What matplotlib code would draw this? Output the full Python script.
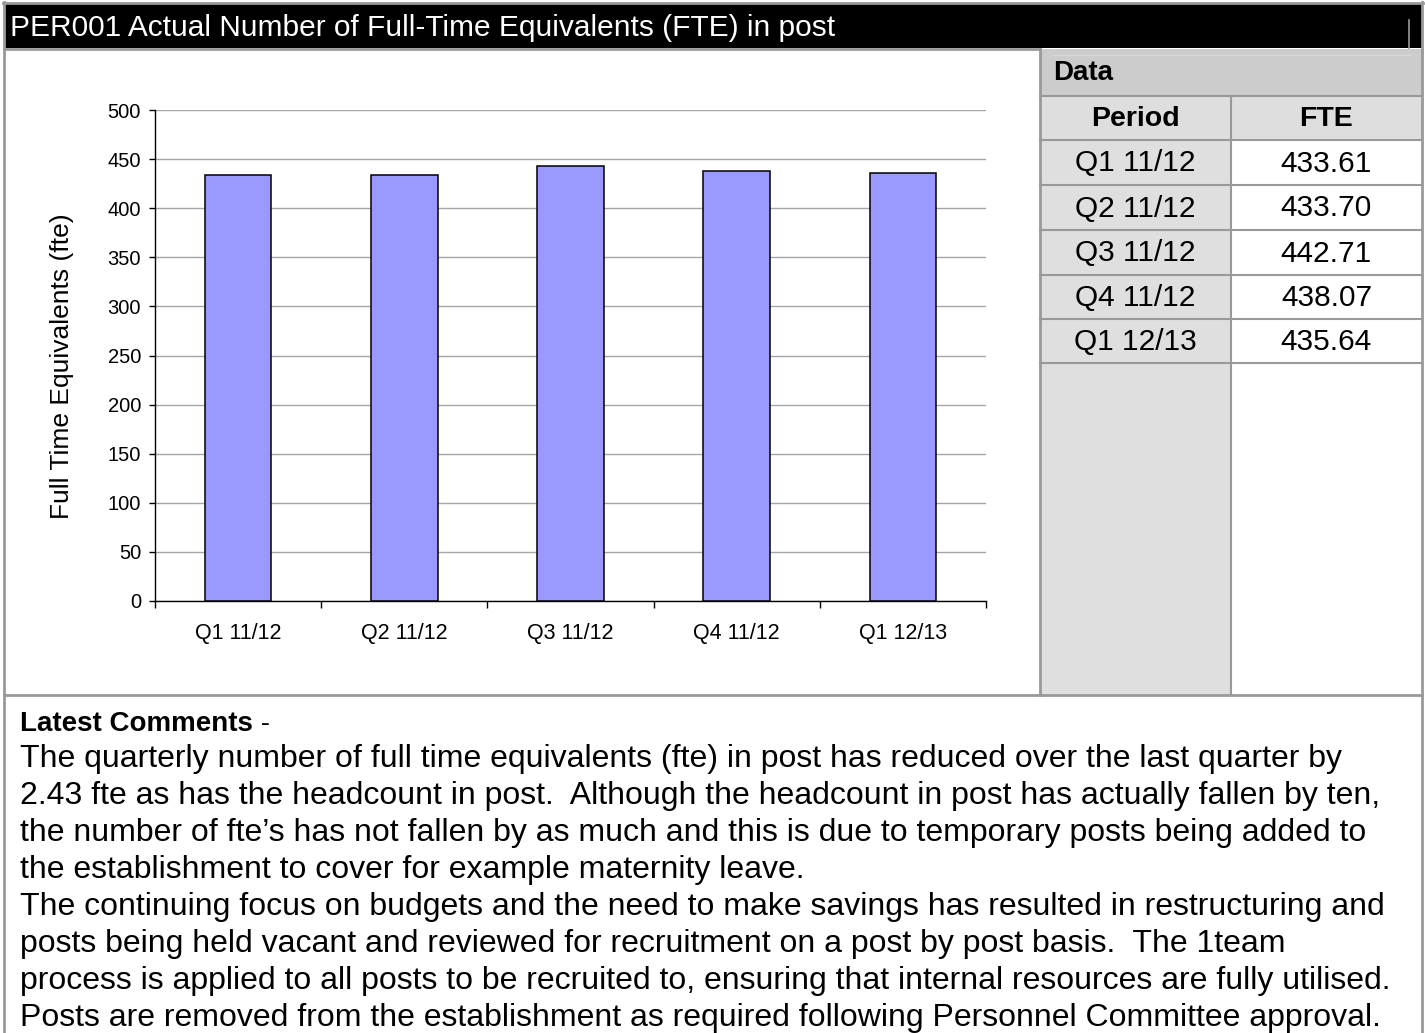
import matplotlib
matplotlib.use('Agg')
import matplotlib.pyplot as plt
from matplotlib.patches import Rectangle
import numpy as np

# ---------------- data ----------------
periods = ['Q1 11/12', 'Q2 11/12', 'Q3 11/12', 'Q4 11/12', 'Q1 12/13']
fte = [433.61, 433.70, 442.71, 438.07, 435.64]
fte_labels = ['433.61', '433.70', '442.71', '438.07', '435.64']
yticks = [0, 50, 100, 150, 200, 250, 300, 350, 400, 450, 500]

title = 'PER001 Actual Number of Full-Time Equivalents (FTE) in post'
ylabel = 'Full Time Equivalents (fte)'
comment_head = 'Latest Comments'
comment_lines = [
    'The quarterly number of full time equivalents (fte) in post has reduced over the last quarter by',
    '2.43 fte as has the headcount in post.  Although the headcount in post has actually fallen by ten,',
    'the number of fte\u2019s has not fallen by as much and this is due to temporary posts being added to',
    'the establishment to cover for example maternity leave.',
    'The continuing focus on budgets and the need to make savings has resulted in restructuring and',
    'posts being held vacant and reviewed for recruitment on a post by post basis.  The 1team',
    'process is applied to all posts to be recruited to, ensuring that internal resources are fully utilised.',
    'Posts are removed from the establishment as required following Personnel Committee approval.',
]

FONT = 'Liberation Sans'
plt.rcParams['font.family'] = [FONT, 'DejaVu Sans']

W, H = 1425, 1033
fig = plt.figure(figsize=(W / 100, H / 100), dpi=100)
fig.patch.set_facecolor('white')

# background / layout axes in pixel coordinates
bg = fig.add_axes([0, 0, 1, 1])
bg.set_xlim(0, W)
bg.set_ylim(H, 0)
bg.axis('off')

GREY = '#999999'

# header bar
bg.add_patch(Rectangle((4, 3), 1418, 45, facecolor='black', edgecolor='none'))
bg.plot([1409, 1409], [20, 48], color=GREY, lw=1.2)
bg.text(10, 28, title, color='white', fontsize=21.5, ha='left', va='center')

# outer border
bg.plot([4, 4], [2, H], color=GREY, lw=2)
bg.plot([1422, 1422], [2, H], color=GREY, lw=2)
bg.plot([3, 1423], [2.5, 2.5], color=GREY, lw=2)
bg.plot([4, 1040], [48.5, 48.5], color=GREY, lw=2)
bg.plot([4, 1422], [695, 695], color=GREY, lw=2)

# data panel
px0, pdiv, px1 = 1040, 1231, 1422
row_edges = [49, 96, 140, 185, 230, 275, 319, 363]
panel_bottom = 695
bg.add_patch(Rectangle((px0, row_edges[0]), px1 - px0, row_edges[1] - row_edges[0],
                       facecolor='#cccccc', edgecolor='none'))
bg.add_patch(Rectangle((px0, row_edges[1]), px1 - px0, row_edges[2] - row_edges[1],
                       facecolor='#dedede', edgecolor='none'))
bg.add_patch(Rectangle((px0, row_edges[2]), pdiv - px0, panel_bottom - row_edges[2],
                       facecolor='#dfdfdf', edgecolor='none'))
bg.add_patch(Rectangle((pdiv, row_edges[2]), px1 - pdiv, panel_bottom - row_edges[2],
                       facecolor='white', edgecolor='none'))
# subtle inner highlight lines
bg.plot([px0 + 12, px1 - 12], [55, 55], color='#d8d8d8', lw=1)
for e in row_edges[1:]:
    bg.plot([px0, px1], [e, e], color=GREY, lw=1.5)
bg.plot([px0, px0], [row_edges[0], panel_bottom], color=GREY, lw=2)
bg.plot([pdiv, pdiv], [row_edges[1], panel_bottom], color=GREY, lw=1.5)

bg.text(px0 + 13, (row_edges[0] + row_edges[1]) / 2 + 1, 'Data', fontsize=20,
        fontweight='bold', ha='left', va='center')
hy = (row_edges[1] + row_edges[2]) / 2 + 1
bg.text((px0 + pdiv) / 2, hy, 'Period', fontsize=20.5, fontweight='bold', ha='center', va='center')
bg.text((pdiv + px1) / 2, hy, 'FTE', fontsize=20.5, fontweight='bold', ha='center', va='center')
for i, (p, v) in enumerate(zip(periods, fte_labels)):
    cy = (row_edges[i + 2] + row_edges[i + 3]) / 2 + 1
    bg.text((px0 + pdiv) / 2, cy, p, fontsize=21.5, ha='center', va='center')
    bg.text((pdiv + px1) / 2, cy, v, fontsize=21.5, ha='center', va='center')

# y label
bg.text(62, 366, ylabel, fontsize=19, rotation=90, ha='center', va='center')

# comments
t = bg.text(20, 731, comment_head, fontsize=20, fontweight='bold', ha='left', va='baseline')
fig.canvas.draw()
r = fig.canvas.get_renderer()
bb = t.get_window_extent(renderer=r)
bg.text(bb.x1, 731, ' -', fontsize=20, ha='left', va='baseline',
        transform=matplotlib.transforms.blended_transform_factory(
            matplotlib.transforms.IdentityTransform(), bg.transData))
for i, line in enumerate(comment_lines):
    bg.text(20, 767 + 37.0 * i, line, fontsize=23, ha='left', va='baseline')

# ---------------- chart ----------------
ax_l, ax_r, ax_t, ax_b = 155, 986, 110, 601
ax = fig.add_axes([ax_l / W, 1 - ax_b / H, (ax_r - ax_l) / W, (ax_b - ax_t) / H])
ax.patch.set_alpha(0)
x = np.arange(len(periods))
ax.bar(x, fte, width=0.4, color='#9999ff', edgecolor='black', linewidth=1.1, zorder=3)
ax.set_xlim(-0.5, len(periods) - 0.5)
ax.set_ylim(0, 500)
ax.set_yticks(yticks)
ax.set_yticklabels([str(v) for v in yticks], fontsize=14.5)
ax.yaxis.grid(True, color='#a6a6a6', lw=1, zorder=0)
ax.set_axisbelow(True)
for s in ['top', 'right']:
    ax.spines[s].set_visible(False)
for s in ['left', 'bottom']:
    ax.spines[s].set_color('black')
    ax.spines[s].set_linewidth(1)
ax.tick_params(axis='y', length=4, width=1, pad=6, direction='out')
ax.set_xticks(np.arange(-0.5, len(periods), 1))
ax.set_xticklabels([])
ax.tick_params(axis='x', which='major', length=5, width=1, direction='out')
ax.set_xticks(x, minor=True)
ax.set_xticklabels(periods, minor=True, fontsize=15.5)
ax.tick_params(axis='x', which='minor', length=0, pad=16)

fig.savefig('out.png', dpi=100, facecolor='white')
